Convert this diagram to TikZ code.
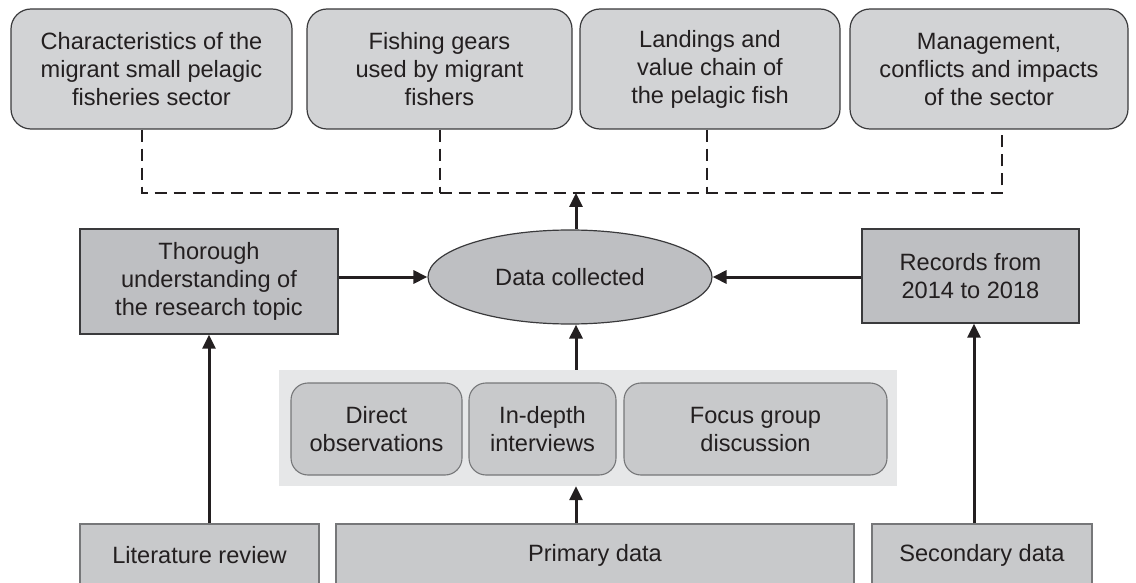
\documentclass[tikz,border=0pt]{standalone}
\usepackage{fontspec}
\setmainfont{Liberation Sans}
\usetikzlibrary{shapes.geometric,arrows.meta}
\definecolor{txtc}{HTML}{231F20}
\definecolor{topf}{HTML}{D2D3D5}
\definecolor{darkf}{HTML}{BEBFC2}
\definecolor{panelf}{HTML}{E6E7E8}
\definecolor{midf}{HTML}{C8C9CB}
\definecolor{bordd}{HTML}{3A3A3C}
\definecolor{bordg}{HTML}{767779}
\tikzset{
  txt/.style={font=\fontsize{23.6}{28}\selectfont, text=txtc, align=center, inner sep=0pt},
  topbox/.style={txt, draw=bordd, fill=topf, rounded corners=20pt, line width=1.2pt, minimum height=120pt},
  darkbox/.style={txt, draw=bordd, fill=darkf, line width=1.4pt},
  innerbox/.style={txt, draw=bordg, fill=midf, rounded corners=17pt, line width=1.1pt, minimum height=92pt},
  basebox/.style={txt, draw=bordg, fill=midf, line width=1.1pt, minimum height=62pt},
  panel/.style={fill=panelf, draw=none, inner sep=0pt},
  arr/.style={draw=txtc, line width=3pt, -{Triangle[length=14pt,width=13pt]}},
  dashln/.style={draw=txtc, line width=2.4pt, dash pattern=on 12pt off 7pt},
}
\begin{document}
\begin{tikzpicture}[x=1pt,y=-1pt]
\useasboundingbox (0,0) rectangle (1136,583);
\clip (0,0) rectangle (1136,583);
% top boxes
\node[topbox, minimum width=281pt] (t1) at (151.5,69) {Characteristics of the\\migrant small pelagic\\fisheries sector};
\node[topbox, minimum width=265pt] (t2) at (439.5,69) {Fishing gears\\used by migrant\\fishers};
\node[topbox, minimum width=260pt] (t3) at (710,69) {Landings and\\value chain of\\the pelagic fish};
\node[topbox, minimum width=278pt] (t4) at (989,69) {Management,\\conflicts and impacts\\of the sector};
% dashed collector
\coordinate (d1) at (142,193);
\coordinate (d2) at (440,193);
\coordinate (d3) at (707,193);
\coordinate (d4) at (1002,193);
\coordinate (ax) at (576,0);
\coordinate (sx) at (974,0);
\draw[dashln] (t1.south -| d1) -- (d1) -- (d4) -- (t4.south -| d4);
\draw[dashln] (t2.south -| d2) -- (d2);
\draw[dashln] (t3.south -| d3) -- (d3);
% middle row
\node[txt, ellipse, draw=bordd, fill=darkf, line width=1.2pt, minimum width=284pt, minimum height=94pt] (dc) at (570,277) {Data collected};
\node[darkbox, minimum width=258pt, minimum height=105pt] (th) at (209,281.5) {Thorough\\understanding of\\the research topic};
\node[darkbox, minimum width=217pt, minimum height=94pt] (rec) at (970.5,276) {Records from\\2014 to 2018};
\draw[arr] (dc.north -| ax) -- (d1 -| ax);
\draw[arr] (th.east |- dc.west) -- (dc.west);
\draw[arr] (rec.west |- dc.east) -- (dc.east);
% panel of primary methods
\node[panel, minimum width=618pt, minimum height=116pt] (pn) at (588,428) {};
\node[innerbox, minimum width=171pt] (ib1) at (376.5,429) {Direct\\observations};
\node[innerbox, minimum width=147pt] (ib2) at (542.5,429) {In-depth\\interviews};
\node[innerbox, minimum width=263pt] (ib3) at (755.5,429) {Focus group\\discussion};
\draw[arr] (pn.north -| ax) -- (dc.south -| ax);
% bottom row
\node[basebox, minimum width=239pt] (lit) at (199.5,555) {Literature review};
\node[basebox, minimum width=518pt] (prim) at (595,555) {Primary data};
\node[basebox, minimum width=220pt] (sec) at (982,555) {Secondary data};
\draw[arr] (prim.north -| ax) -- (pn.south -| ax);
\draw[arr] (lit.north -| th.south) -- (th.south);
\draw[arr] (sec.north -| sx) -- (rec.south -| sx);
\end{tikzpicture}
\end{document}
